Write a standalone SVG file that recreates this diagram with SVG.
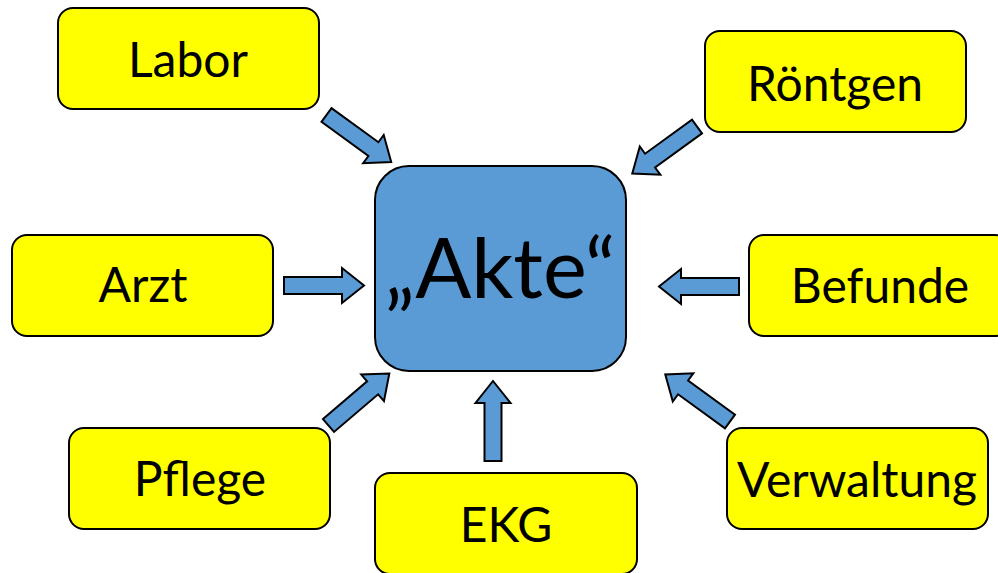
<svg xmlns="http://www.w3.org/2000/svg" xmlns:xlink="http://www.w3.org/1999/xlink" width="998" height="573" viewBox="0 0 998 573">
  <style>
    .box { fill: #ffff00; stroke: #000; stroke-width: 2; }
    .center { fill: #5b9bd5; stroke: #000; stroke-width: 2; }
    .lbl { font-family: Lato, "Open Sans", "Liberation Sans", sans-serif; font-size: 48px; fill: #000; text-anchor: middle; }
    .big { font-size: 83px; }
    .arrow { fill: #5b9bd5; stroke: #000; stroke-width: 2; stroke-linejoin: miter; }
  </style>
  <defs>
    <!-- block arrow pointing right, tail at origin, tip at x=80 -->
    <path id="blockArrow" class="arrow" d="M0,-8.5 H58 V-17.5 L80,0 L58,17.5 V8.5 H0 Z"/>
  </defs>

  <rect width="998" height="573" fill="#fff"/>

  <g id="connectors">
    <use xlink:href="#blockArrow" transform="translate(326.5,115) rotate(36)"/>
    <use xlink:href="#blockArrow" transform="translate(697,126.5) rotate(144)"/>
    <use xlink:href="#blockArrow" transform="translate(284,285.5)"/>
    <use xlink:href="#blockArrow" transform="translate(739,286.5) rotate(180)"/>
    <use xlink:href="#blockArrow" transform="translate(328.5,425.5) rotate(-40.5)"/>
    <use xlink:href="#blockArrow" transform="translate(493,461) rotate(-90)"/>
    <use xlink:href="#blockArrow" transform="translate(730,421.5) rotate(-144)"/>
  </g>

  <g id="akte">
    <rect class="center" x="375" y="166" width="251" height="205" rx="34"/>
    <text class="lbl big" x="500" y="298">„Akte“</text>
  </g>

  <g id="labor">
    <rect class="box" x="58" y="8" width="261" height="101" rx="15"/>
    <text class="lbl" x="188" y="77">Labor</text>
  </g>

  <g id="roentgen">
    <rect class="box" x="705" y="31" width="261" height="101" rx="15"/>
    <text class="lbl" x="835" y="101">Röntgen</text>
  </g>

  <g id="arzt">
    <rect class="box" x="12" y="235" width="261" height="101" rx="15"/>
    <text class="lbl" x="143" y="302">Arzt</text>
  </g>

  <g id="befunde">
    <rect class="box" x="749" y="235" width="261" height="101" rx="15"/>
    <text class="lbl" x="880" y="303">Befunde</text>
  </g>

  <g id="pflege">
    <rect class="box" x="69" y="428" width="261" height="101" rx="15"/>
    <text class="lbl" x="200" y="496">Pflege</text>
  </g>

  <g id="ekg">
    <rect class="box" x="375" y="473" width="262" height="101" rx="15"/>
    <text class="lbl" x="506" y="542">EKG</text>
  </g>

  <g id="verwaltung">
    <rect class="box" x="727" y="428" width="261" height="101" rx="15"/>
    <text class="lbl" x="857" y="497">Verwaltung</text>
  </g>
</svg>
